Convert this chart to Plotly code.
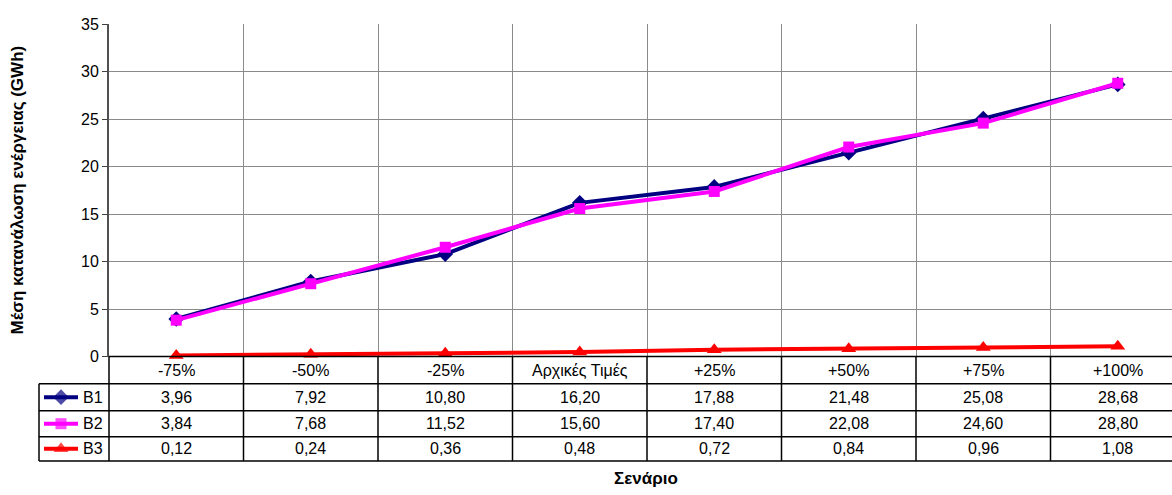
import plotly.graph_objects as go

# Scenario categories and average energy consumption (GWh) per series
categories = ["-75%", "-50%", "-25%", "Αρχικές Τιμές", "+25%", "+50%", "+75%", "+100%"]
b1 = [3.96, 7.92, 10.80, 16.20, 17.88, 21.48, 25.08, 28.68]
b2 = [3.84, 7.68, 11.52, 15.60, 17.40, 22.08, 24.60, 28.80]
b3 = [0.12, 0.24, 0.36, 0.48, 0.72, 0.84, 0.96, 1.08]
series_names = ["B1", "B2", "B3"]
y_ticks = [0, 5, 10, 15, 20, 25, 30, 35]

W, H = 1172, 495
PLOT_L, PLOT_T, PLOT_B = 109, 17, 361
CAT_W = 134.5
ROW_EDGES = [361, 389, 417, 444, 469]
TABLE_L = 39
FONT = "Liberation Sans, Arial, sans-serif"
FS = 16
FS_TITLE = 17

colors = ["#000080", "#FF00FF", "#FF0000"]
symbols = ["diamond", "square", "triangle-up"]
sizes = [12, 11, 13]


def px(x):
    return x / W


def py(y):
    return 1 - y / H


fig = go.Figure()

for name, vals, c, s, sz in zip(series_names, [b1, b2, b3], colors, symbols, sizes):
    fig.add_trace(go.Scatter(
        x=categories, y=vals, name=name, mode="lines+markers",
        line=dict(color=c, width=4),
        marker=dict(symbol=s, size=sz, color=c, line=dict(width=0)),
        cliponaxis=False, showlegend=False,
    ))

# Legend keys drawn in the data-table label column (full-page pixel axes)
for i, (c, s, sz) in enumerate(zip(colors, symbols, sizes)):
    yc = (ROW_EDGES[i + 1] + ROW_EDGES[i + 2]) / 2
    fig.add_trace(go.Scatter(
        x=[44, 61, 78], y=[yc, yc, yc], mode="lines+markers",
        line=dict(color=c, width=4),
        marker=dict(symbol=s, size=[0, sz, 0], color=c, line=dict(width=0)),
        xaxis="x2", yaxis="y2", showlegend=False, hoverinfo="skip",
    ))

fig.update_layout(
    width=W, height=H,
    margin=dict(l=0, r=0, t=0, b=0),
    paper_bgcolor="white", plot_bgcolor="rgba(0,0,0,0)",
    font=dict(family=FONT, size=FS, color="black"),
    xaxis=dict(
        type="category", domain=[px(PLOT_L), 1],
        range=[-0.5, -0.5 + (W - PLOT_L) / CAT_W],
        tickson="boundaries", showgrid=True, gridcolor="#8a8a8a", gridwidth=1,
        showticklabels=False, ticks="", showline=False, zeroline=False,
    ),
    yaxis=dict(
        domain=[py(PLOT_B), py(PLOT_T)], range=[0, 35],
        tickvals=y_ticks, showgrid=True, gridcolor="#8a8a8a", gridwidth=1,
        ticks="outside", ticklen=5, tickcolor="#404040",
        showline=True, linecolor="#505050", linewidth=2,
        zeroline=False, tickfont=dict(size=FS),
    ),
    xaxis2=dict(domain=[0, 1], range=[0, W], visible=False, anchor="y2"),
    yaxis2=dict(domain=[0, 1], range=[H, 0], visible=False, anchor="x2"),
)

shapes = []
line_k = dict(color="black", width=1.5)
# horizontal table rules
for k, ye in enumerate(ROW_EDGES):
    x0 = PLOT_L if k == 0 else TABLE_L
    shapes.append(dict(type="line", xref="paper", yref="paper",
                       x0=px(x0), x1=1, y0=py(ye), y1=py(ye), line=line_k))
# vertical table rules
shapes.append(dict(type="line", xref="paper", yref="paper",
                   x0=px(TABLE_L), x1=px(TABLE_L), y0=py(ROW_EDGES[1]), y1=py(ROW_EDGES[-1]), line=line_k))
shapes.append(dict(type="line", xref="paper", yref="paper",
                   x0=px(PLOT_L), x1=px(PLOT_L), y0=py(ROW_EDGES[0]), y1=py(ROW_EDGES[-1]), line=line_k))
for i in range(1, len(categories)):
    shapes.append(dict(type="line", xref="x", yref="paper",
                       x0=i - 0.5, x1=i - 0.5, y0=py(ROW_EDGES[0]), y1=py(ROW_EDGES[-1]), line=line_k))
fig.update_layout(shapes=shapes)

annotations = []


def cell(xv, xref, yrow, text, xanchor="center"):
    yc = (ROW_EDGES[yrow] + ROW_EDGES[yrow + 1]) / 2
    annotations.append(dict(x=xv, xref=xref, y=py(yc), yref="paper", text=text,
                            showarrow=False, xanchor=xanchor, yanchor="middle",
                            font=dict(family=FONT, size=FS, color="black")))


for i, cat in enumerate(categories):
    cell(i, "x", 0, cat)
for r, vals in enumerate([b1, b2, b3]):
    for i, v in enumerate(vals):
        cell(i, "x", r + 1, f"{v:.2f}".replace(".", ","))
    cell(px(81), "paper", r + 1, series_names[r], xanchor="left")

annotations.append(dict(x=px(18), y=py((PLOT_T + PLOT_B) / 2), xref="paper", yref="paper",
                        xanchor="center", yanchor="middle",
                        text="<b>Μέση κατανάλωση ενέργειας (GWh)</b>", textangle=-90,
                        showarrow=False, font=dict(family=FONT, size=FS_TITLE, color="black")))
annotations.append(dict(x=px(646), y=py(487), xref="paper", yref="paper",
                        xanchor="center", yanchor="middle",
                        text="<b>Σενάριο</b>", showarrow=False,
                        font=dict(family=FONT, size=FS_TITLE, color="black")))
fig.update_layout(annotations=annotations)

fig.write_html("out.html")
